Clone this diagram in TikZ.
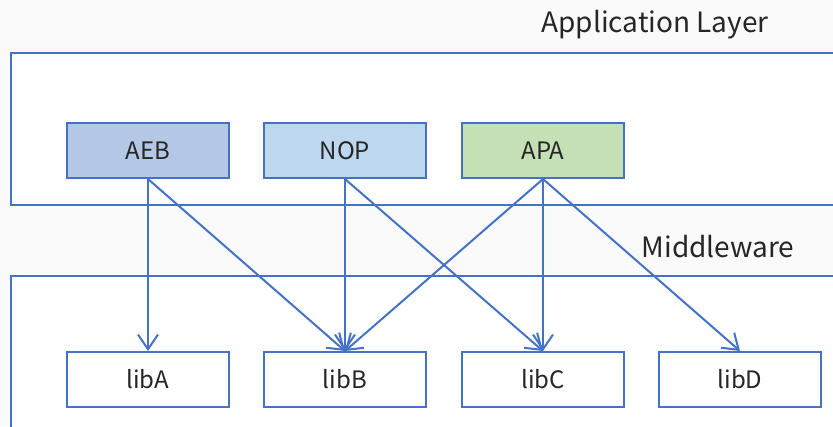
\documentclass[tikz,border=0pt]{standalone}
\usepackage{fontspec}
\setmainfont{Noto Sans CJK SC}
\usetikzlibrary{positioning, arrows.meta}
\definecolor{lineblue}{HTML}{4472C4}
\definecolor{aebfill}{HTML}{B4C7E7}
\definecolor{nopfill}{HTML}{BDD7EE}
\definecolor{apafill}{HTML}{C5E0B4}
\definecolor{bggray}{HTML}{FAFAFA}
\tikzset{
	layerbox/.style={
			draw=lineblue,
			line width=1.5pt,
			fill=white
		},
	layerlabel/.style={
			inner sep=0pt,
			text=black!85,
			font=\fontsize{21}{24}\selectfont
		}
}
\tikzset{
	modnode/.style={
			shape=rectangle,
			draw=lineblue,
			line width=1.5pt,
			fill=white,
			text=black!85,
			minimum width=122pt,
			minimum height=41.25pt,
			inner sep=0pt,
			font=\fontsize{18}{21}\selectfont
		},
	aebnode/.style={
			modnode,
			fill=aebfill
		},
	nopnode/.style={
			modnode,
			fill=nopfill
		},
	apanode/.style={
			modnode,
			fill=apafill
		},
	libnode/.style={
			modnode
		},
	dep/.style={
			draw=lineblue,
			line width=1.5pt,
			-{Straight Barb[length=11pt, width=15pt]}
		}
}

\begin{document}
\begin{tikzpicture}[x=0.75pt, y=-0.75pt]

  \useasboundingbox (0,0) rectangle (833,426);
  \clip (0,0) rectangle (833,426);
  \fill[bggray] (0,0) rectangle (833,426);

  \draw[layerbox] (11,53) rectangle (860,205);
  \draw[layerbox] (11,276) rectangle (860,440);

  \node[layerlabel] (t1) at (655,25) {Application Layer};
  \node[layerlabel] (t2) at (718,247) {Middleware};

  \node[aebnode] (s1) at (148,150.5) {AEB};
  \node[nopnode] (s2) at (345,150.5) {NOP};
  \node[apanode] (s3) at (543,150.5) {APA};

  \node[libnode] (m1) at (148,379.5) {libA};
  \node[libnode] (m2) at (345,379.5) {libB};
  \node[libnode] (m3) at (543,379.5) {libC};
  \node[libnode] (m4) at (740,379.5) {libD};

  \draw[dep] (s1.south) -- (m1.north);
  \draw[dep] (s1.south) -- (m2.north);
  \draw[dep] (s2.south) -- (m2.north);
  \draw[dep] (s2.south) -- (m3.north);
  \draw[dep] (s3.south) -- (m2.north);
  \draw[dep] (s3.south) -- (m3.north);
  \draw[dep] (s3.south) -- (m4.north);

\end{tikzpicture}
\end{document}
